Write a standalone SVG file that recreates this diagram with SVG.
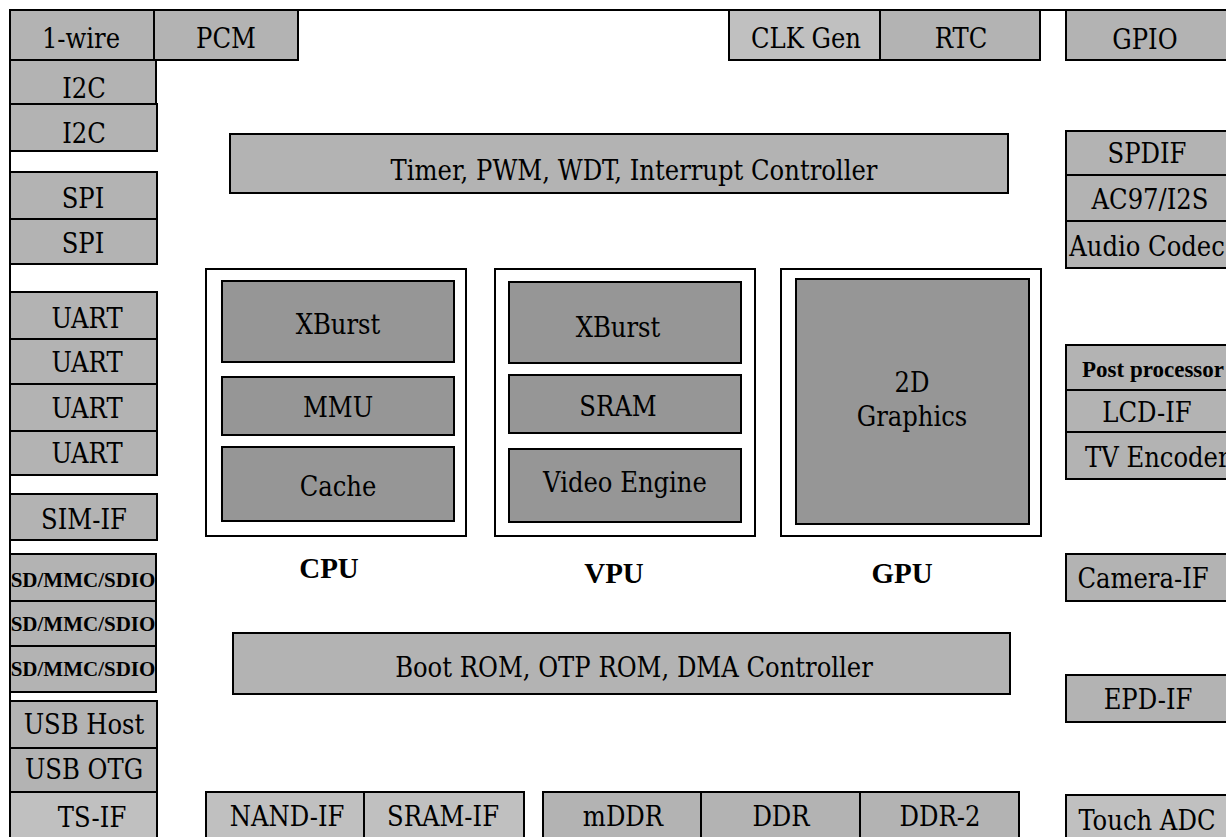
<svg xmlns="http://www.w3.org/2000/svg" width="1226" height="837" viewBox="0 0 1226 837">
<style>
.p{fill:#b3b3b3;stroke:#000;stroke-width:2}
.l{fill:#c0c0c0;stroke:#000;stroke-width:2}
.d{fill:#969696;stroke:#000;stroke-width:2}
.o{fill:#fff;stroke:#000;stroke-width:2}
.t{font-family:"DejaVu Serif Condensed","DejaVu Serif",serif;font-size:27px;text-anchor:middle;fill:#000}
.s{text-anchor:start}
.b{font-family:"Liberation Serif","Times New Roman",serif;font-size:29px;font-weight:700}
.sd{font-family:"Liberation Serif","Times New Roman",serif;font-size:21px;font-weight:700}
.pp{font-family:"Liberation Serif","Times New Roman",serif;font-size:23px;font-weight:700;text-anchor:start}
</style>
<rect width="1226" height="837" fill="#fff"/>
<path d="M10,837 V10 H1226" fill="none" stroke="#000" stroke-width="2"/>
<g id="connectors"></g>
<g id="n-1wire"><rect class="p" x="10" y="10" width="144" height="50"/><text class="t" x="81" y="48">1-wire</text></g>
<g id="n-pcm"><rect class="p" x="154" y="10" width="144" height="50"/><text class="t" x="226" y="48">PCM</text></g>
<g id="n-i2c1"><rect class="p" x="10" y="60" width="146" height="44"/><text class="t" x="84" y="98">I2C</text></g>
<g id="n-i2c2"><rect class="p" x="10" y="104" width="147" height="47" stroke-width="3"/><text class="t" x="84" y="143">I2C</text></g>
<g id="n-spi1"><rect class="p" x="10" y="172" width="147" height="47"/><text class="t" x="83" y="208">SPI</text></g>
<g id="n-spi2"><rect class="p" x="10" y="219" width="147" height="45"/><text class="t" x="83" y="253">SPI</text></g>
<g id="n-uart1"><rect class="p" x="10" y="292" width="147" height="47"/><text class="t" x="87" y="328">UART</text></g>
<g id="n-uart2"><rect class="p" x="10" y="339" width="147" height="45"/><text class="t" x="87" y="372">UART</text></g>
<g id="n-uart3"><rect class="p" x="10" y="384" width="147" height="47"/><text class="t" x="87" y="418">UART</text></g>
<g id="n-uart4"><rect class="p" x="10" y="431" width="147" height="44"/><text class="t" x="87" y="463">UART</text></g>
<g id="n-sim"><rect class="p" x="10" y="494" width="147" height="46"/><text class="t" x="84" y="529">SIM-IF</text></g>
<g id="n-sd1"><rect class="p" x="10" y="554" width="146" height="47"/><text class="t sd" x="83" y="587">SD/MMC/SDIO</text></g>
<g id="n-sd2"><rect class="p" x="10" y="601" width="146" height="45"/><text class="t sd" x="83" y="631">SD/MMC/SDIO</text></g>
<g id="n-sd3"><rect class="p" x="10" y="646" width="146" height="46"/><text class="t sd" x="83" y="676">SD/MMC/SDIO</text></g>
<g id="n-usbhost"><rect class="p" x="10" y="701" width="147" height="47"/><text class="t" x="84" y="734">USB Host</text></g>
<g id="n-usbotg"><rect class="p" x="10" y="748" width="147" height="44"/><text class="t" x="84" y="779">USB OTG</text></g>
<g id="n-ts"><rect class="l" x="10" y="792" width="147" height="50"/><text class="t" x="92" y="827">TS-IF</text></g>
<g id="n-clk"><rect class="l" x="729" y="10" width="151" height="50"/><text class="t" x="806" y="48">CLK Gen</text></g>
<g id="n-rtc"><rect class="p" x="880" y="10" width="160" height="50"/><text class="t" x="961" y="48">RTC</text></g>
<g id="n-gpio"><rect class="p" x="1066" y="10" width="170" height="50"/><text class="t" x="1145" y="49">GPIO</text></g>
<g id="n-spdif"><rect class="p" x="1066" y="131" width="170" height="44"/><text class="t" x="1147" y="163">SPDIF</text></g>
<g id="n-ac97"><rect class="p" x="1066" y="175" width="170" height="46"/><text class="t" x="1150" y="209">AC97/I2S</text></g>
<g id="n-codec"><rect class="p" x="1066" y="221" width="170" height="47"/><text class="t" x="1147" y="256">Audio Codec</text></g>
<g id="n-post"><rect class="p" x="1066" y="345" width="170" height="45"/><text class="t pp" x="1082" y="377">Post processor</text></g>
<g id="n-lcd"><rect class="p" x="1066" y="390" width="170" height="42"/><text class="t" x="1147" y="422">LCD-IF</text></g>
<g id="n-tv"><rect class="p" x="1066" y="432" width="170" height="47"/><text class="t s" x="1085" y="467">TV Encoder</text></g>
<g id="n-cam"><rect class="p" x="1066" y="554" width="170" height="47"/><text class="t" x="1143" y="588">Camera-IF</text></g>
<g id="n-epd"><rect class="p" x="1066" y="675" width="170" height="47"/><text class="t" x="1148" y="709">EPD-IF</text></g>
<g id="n-touch"><rect class="l" x="1066" y="795" width="170" height="50"/><text class="t" x="1147" y="830">Touch ADC</text></g>
<g id="n-timer"><rect class="p" x="230" y="134" width="778" height="59"/><text class="t" x="634" y="180">Timer, PWM, WDT, Interrupt Controller</text></g>
<g id="n-boot"><rect class="p" x="233" y="633" width="777" height="61"/><text class="t" x="634" y="677">Boot ROM, OTP ROM, DMA Controller</text></g>
<g id="n-cpu">
<rect class="o" x="206" y="269" width="260" height="267"/>
<rect class="d" x="222" y="281" width="232" height="81"/><text class="t" x="338" y="334">XBurst</text>
<rect class="d" x="222" y="377" width="232" height="58"/><text class="t" x="338" y="417">MMU</text>
<rect class="d" x="222" y="447" width="232" height="74"/><text class="t" x="338" y="496">Cache</text>
<text class="t b" x="329" y="578">CPU</text>
</g>
<g id="n-vpu">
<rect class="o" x="495" y="269" width="260" height="267"/>
<rect class="d" x="509" y="282" width="232" height="81"/><text class="t" x="618" y="337">XBurst</text>
<rect class="d" x="509" y="375" width="232" height="58"/><text class="t" x="618" y="416">SRAM</text>
<rect class="d" x="509" y="449" width="232" height="73"/><text class="t" x="625" y="492">Video Engine</text>
<text class="t b" x="614" y="583">VPU</text>
</g>
<g id="n-gpu">
<rect class="o" x="781" y="269" width="260" height="267"/>
<rect class="d" x="796" y="279" width="233" height="245"/><text class="t" x="912" y="392">2D</text><text class="t" x="912" y="426">Graphics</text>
<text class="t b" x="902" y="583">GPU</text>
</g>
<g id="n-nand"><rect class="l" x="206" y="792" width="158" height="50"/><text class="t" x="287" y="826">NAND-IF</text></g>
<g id="n-sramif"><rect class="l" x="364" y="792" width="160" height="50"/><text class="t" x="443" y="826">SRAM-IF</text></g>
<g id="n-mddr"><rect class="p" x="543" y="792" width="158" height="50"/><text class="t" x="623" y="826">mDDR</text></g>
<g id="n-ddr"><rect class="p" x="701" y="792" width="159" height="50"/><text class="t" x="781" y="826">DDR</text></g>
<g id="n-ddr2"><rect class="p" x="860" y="792" width="159" height="50"/><text class="t" x="940" y="826">DDR-2</text></g>
</svg>
